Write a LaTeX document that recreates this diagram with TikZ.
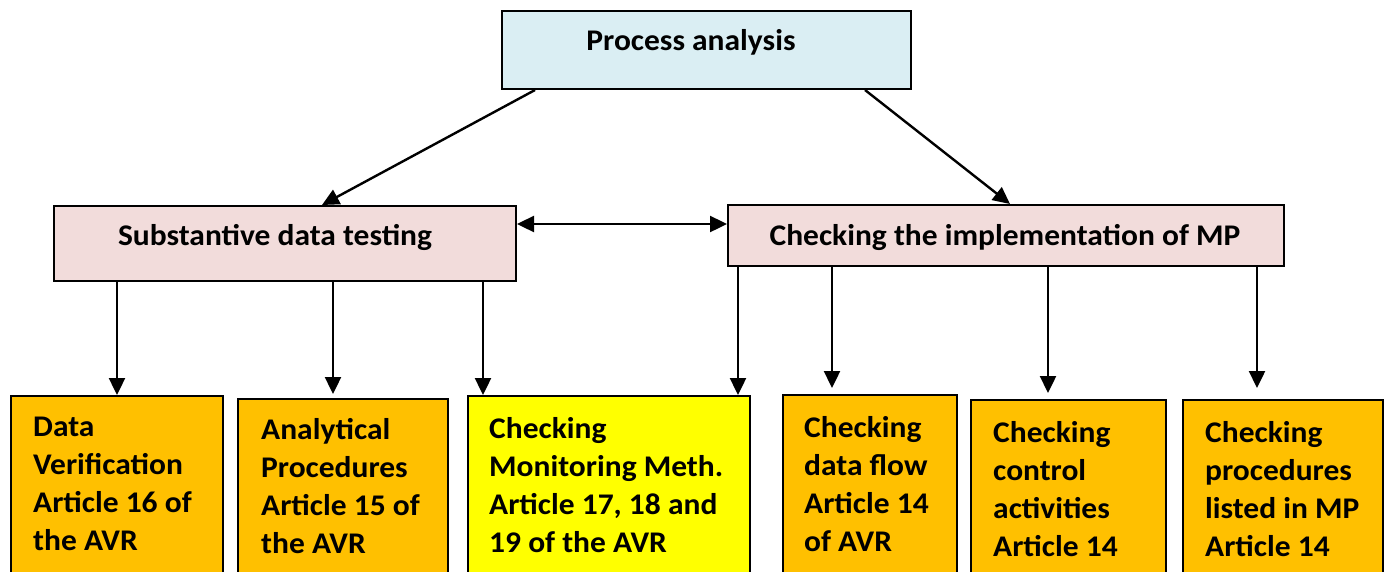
\documentclass[tikz,border=0pt]{standalone}
\usepackage{fontspec}
\setmainfont{Carlito}[FakeStretch=1.05]
\usetikzlibrary{arrows.meta}
\definecolor{pablue}{HTML}{DAEEF3}
\definecolor{mypink}{HTML}{F2DCDB}
\definecolor{myorange}{HTML}{FFC000}
\definecolor{myyellow}{HTML}{FFFF00}
\begin{document}
\begin{tikzpicture}[x=1pt,y=-1pt,
  box/.style={draw=black, line width=2pt, rectangle, inner sep=0pt, anchor=north west},
  txt/.style={font=\fontsize{30}{38}\selectfont\bfseries, inner sep=0pt, align=left},
  arr/.style={line width=2.4pt, -{Triangle[length=17pt,width=16pt]}},
  darr/.style={line width=2.4pt, {Triangle[length=17pt,width=16pt]}-{Triangle[length=17pt,width=16pt]}}]
\useasboundingbox (0,0) rectangle (1386,571);
\clip (0,0) rectangle (1386,571);
% top level
\node[box, fill=pablue, minimum width=409pt, minimum height=78pt] (pa) at (501,10) {};
\node[txt, anchor=base] (pat) at (691,50) {Process analysis};
% second level
\node[box, fill=mypink, minimum width=462pt, minimum height=75pt] (sdt) at (53,205) {};
\node[txt, anchor=base] (sdtt) at (275,245) {Substantive data testing};
\node[box, fill=mypink, minimum width=556pt, minimum height=61pt] (cim) at (727,204) {};
\node[txt, anchor=base] (cimt) at (1005,245) {Checking the implementation of MP};
% bottom boxes
\node[box, fill=myorange, minimum width=212pt, minimum height=190pt] (b1) at (10,395) {};
\node[box, fill=myorange, minimum width=210pt, minimum height=190pt] (b2) at (237,398) {};
\node[box, fill=myyellow, minimum width=282pt, minimum height=190pt] (b3) at (467,395) {};
\node[box, fill=myorange, minimum width=174pt, minimum height=190pt] (b4) at (782,394) {};
\node[box, fill=myorange, minimum width=195pt, minimum height=190pt] (b5) at (970,399) {};
\node[box, fill=myorange, minimum width=200pt, minimum height=190pt] (b6) at (1182,399) {};
\node[txt, anchor=north west] (t1) at (33,417) {Data\\Verification\\Article 16 of\\the AVR};
\node[txt, anchor=north west] (t2) at (261,418) {Analytical\\Procedures\\Article 15 of\\the AVR};
\node[txt, anchor=north west] (t3) at (489,417) {Checking\\Monitoring Meth.\\Article 17, 18 and\\19 of the AVR};
\node[txt, anchor=north west] (t4) at (804,416) {Checking\\data flow\\Article 14\\of AVR};
\node[txt, anchor=north west] (t5) at (993,421) {Checking\\control\\activities\\Article 14};
\node[txt, anchor=north west] (t6) at (1205,421) {Checking\\procedures\\listed in MP\\Article 14};
% connectors
\draw[arr] ([xshift=34pt]pa.south west) -- ([xshift=269pt]sdt.north west);
\draw[arr] ([xshift=364pt]pa.south west) -- ([xshift=283pt]cim.north west);
\draw[darr] ([yshift=-19pt]sdt.north east) -- ([yshift=-20pt]cim.north west);
\draw[arr] ([xshift=64pt]sdt.south west) -- ([xshift=107pt]b1.north west);
\draw[arr] ([xshift=280pt]sdt.south west) -- ([xshift=96pt,yshift=4pt]b2.north west);
\draw[arr] ([xshift=430pt]sdt.south west) -- ([xshift=16pt]b3.north west);
\draw[arr] ([xshift=11pt]cim.south west) -- ([xshift=271pt]b3.north west);
\draw[arr] ([xshift=105pt]cim.south west) -- ([xshift=50pt,yshift=6pt]b4.north west);
\draw[arr] ([xshift=321pt]cim.south west) -- ([xshift=78pt,yshift=6pt]b5.north west);
\draw[arr] ([xshift=530pt]cim.south west) -- ([xshift=75pt,yshift=11pt]b6.north west);
\end{tikzpicture}
\end{document}
